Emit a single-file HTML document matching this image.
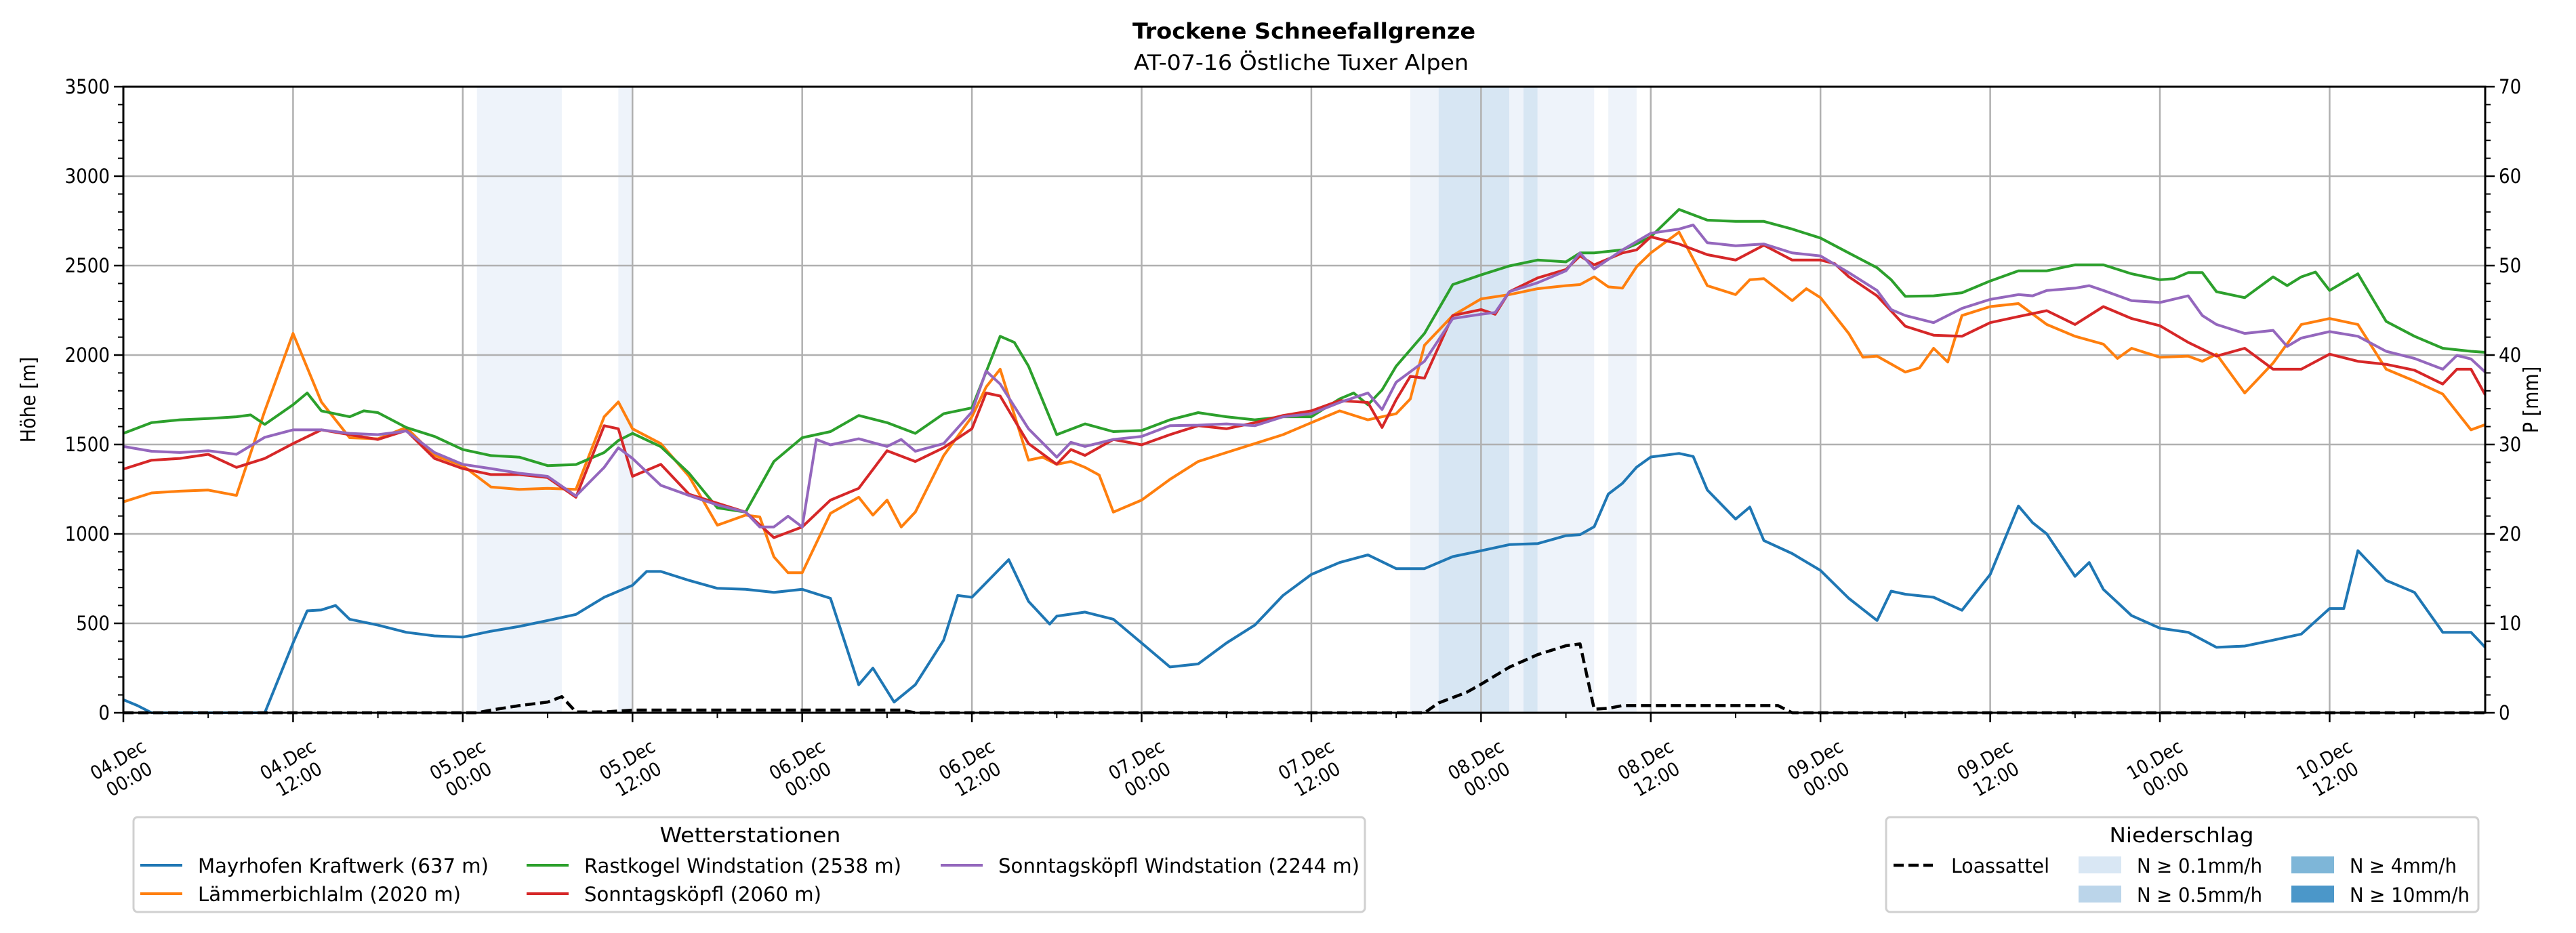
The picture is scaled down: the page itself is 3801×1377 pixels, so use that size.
<!DOCTYPE html>
<html><head><meta charset="utf-8"><title>Trockene Schneefallgrenze</title>
<style>
html,body{margin:0;padding:0;background:#fff;}
svg{display:block;}
text{font-family:"DejaVu Sans Condensed","Liberation Sans Narrow","DejaVu Sans",sans-serif;fill:#000;}
</style></head>
<body>
<svg id="chart" xmlns="http://www.w3.org/2000/svg" width="3801" height="1377" viewBox="0 0 3801 1377">
<rect x="0" y="0" width="3801" height="1377" fill="#fff"/>
<text x="1924" y="57" text-anchor="middle" font-size="32" font-weight="bold" textLength="506" lengthAdjust="spacingAndGlyphs">Trockene Schneefallgrenze</text>
<text x="1920" y="103" text-anchor="middle" font-size="31" textLength="494" lengthAdjust="spacingAndGlyphs">AT-07-16 Östliche Tuxer Alpen</text>
<g id="shade"></g><g id="grid"></g><g id="series"></g><g id="axes"></g><g id="legend"></g>
</svg>
<script>
// ---- data ----
const xTickLabelsTop = ["04.Dec","04.Dec","05.Dec","05.Dec","06.Dec","06.Dec","07.Dec","07.Dec","08.Dec","08.Dec","09.Dec","09.Dec","10.Dec","10.Dec"];
const xTickLabelsBottom = ["00:00","12:00","00:00","12:00","00:00","12:00","00:00","12:00","00:00","12:00","00:00","12:00","00:00","12:00"];
const yTicksLeft = [0,500,1000,1500,2000,2500,3000,3500];
const yTicksRight = [0,10,20,30,40,50,60,70];

const shadeStart = [25,35,91,93,98,99,100,105];
const shadeEnd   = [31,36,93,98,99,100,104,107];
const shadeLevel = [0,0,0,1,0,1,0,0];

const precipHours = [0,25,26,28,30,31,32,34,35,36,55,56,92,93,95,96,98,99,100,102,103,104,105,106,107,117,118,167];
const precipVals  = [0,0,0.3,0.8,1.2,1.8,0.1,0.1,0.2,0.3,0.3,0,0,1.1,2.3,3.2,5.1,5.8,6.5,7.5,7.7,0.4,0.5,0.8,0.8,0.8,0,0];

const mayrHours = [0,1,2,10,12,13,14,15,16,18,20,22,24,26,28,30,32,34,36,37,38,40,42,44,46,48,50,52,53,54.5,56,58,59,60,62.6,64,65.5,66,68,70,72,74,76,78,80,82,84,86,88,90,92,94,96,98,100,102,103,104,105,106,107,108,110,111,112,114,115,116,118,120,122,124,125,126,128,130,132,134,135,136,138,139,140,142,144,146,148,150,152,154,156,157,158,160,162,164,166,167];
const mayrVals  = [73,40,0,0,390,570,575,600,523,490,450,430,423,456,483,516,550,646,713,790,790,740,696,690,673,690,640,157,250,60,157,406,656,646,856,623,496,540,563,523,390,256,273,390,490,656,773,840,883,806,806,873,906,940,946,990,996,1040,1223,1283,1373,1430,1450,1433,1246,1083,1150,963,890,796,640,516,680,663,646,573,773,1156,1063,1000,763,840,690,543,473,450,366,373,406,440,583,583,906,740,673,450,450,366];

const laemHours = [0,2,4,6,8,10,12,14,16,18,20,22,24,26,28,30,32,34,35,36,38,40,42,44,45,46,47,48,50,52,53,54,55,56,58,60,61,62,64,65,66,67,68,69,70,72,74,76,78,80,82,84,86,88,90,91,92,94,96,98,100,102,103,104,105,106,107,108,110,112,114,115,116,118,119,120,122,123,124,126,127,128,129,130,132,134,136,138,140,141,142,144,146,147,148,150,152,154,156,158,160,162,164,166,167];
const laemVals  = [1179,1229,1239,1245,1215,1688,2121,1738,1538,1532,1595,1439,1382,1262,1249,1255,1249,1655,1738,1588,1505,1322,1049,1105,1095,872,783,783,1115,1205,1105,1189,1039,1122,1438,1655,1821,1921,1412,1429,1389,1405,1372,1329,1122,1189,1305,1405,1455,1505,1555,1622,1688,1638,1672,1755,2055,2221,2314,2338,2371,2388,2394,2437,2381,2374,2494,2571,2687,2388,2338,2421,2427,2304,2371,2321,2121,1988,1994,1905,1928,2038,1961,2221,2271,2288,2171,2105,2061,1981,2038,1988,1994,1965,2005,1788,1955,2171,2204,2171,1921,1855,1782,1582,1611];

const rastHours = [0,2,4,6,8,9,10,12,13,14,16,17,18,20,22,24,26,28,30,32,34,35,36,38,40,42,44,46,48,50,52,54,56,58,60,61,62,63,64,66,68,70,72,74,76,78,80,82,84,86,87,88,89,90,92,94,96,98,100,102,103,104,106,107,108,110,112,114,116,118,120,122,124,125,126,128,130,132,134,136,138,140,142,144,145,146,147,148,150,152,153,154,155,156,158,160,162,164,166,167];
const rastVals  = [1562,1622,1638,1645,1655,1665,1612,1722,1788,1688,1655,1688,1678,1595,1545,1472,1438,1429,1382,1388,1455,1522,1562,1488,1339,1146,1122,1405,1538,1572,1662,1622,1562,1672,1705,1905,2105,2071,1938,1555,1615,1572,1578,1638,1678,1655,1638,1655,1655,1755,1788,1722,1805,1938,2121,2394,2448,2498,2531,2521,2571,2571,2588,2621,2661,2814,2754,2747,2747,2704,2654,2571,2488,2421,2328,2331,2348,2414,2471,2471,2504,2504,2454,2421,2427,2461,2461,2354,2321,2437,2388,2437,2464,2361,2454,2188,2105,2038,2021,2015];

const sonnHours = [0,2,4,6,8,10,12,14,16,18,20,22,24,26,28,30,32,34,35,36,38,40,42,44,46,48,50,52,54,56,58,60,61,62,64,66,67,68,70,72,74,76,78,80,82,84,86,88,89,90,91,92,94,96,97,98,100,102,103,104,106,107,108,110,112,114,116,118,120,121,122,124,126,128,130,132,134,136,138,140,142,144,146,148,150,152,154,156,158,160,162,164,165,166,167];
const sonnVals  = [1362,1412,1422,1445,1372,1422,1505,1582,1555,1528,1578,1422,1365,1332,1332,1315,1205,1605,1588,1322,1389,1222,1172,1122,979,1039,1189,1255,1465,1405,1482,1588,1788,1771,1505,1389,1472,1439,1528,1498,1555,1605,1588,1622,1662,1688,1745,1735,1595,1750,1881,1871,2221,2254,2228,2354,2431,2478,2554,2504,2571,2588,2661,2621,2561,2531,2614,2531,2531,2511,2438,2331,2161,2111,2105,2181,2215,2248,2171,2271,2204,2164,2071,1994,2038,1921,1921,2005,1965,1948,1915,1838,1921,1921,1778];

const sowsHours = [0,2,4,6,8,10,12,14,16,18,20,22,24,26,28,30,32,34,35,36,38,40,42,44,45,46,47,48,49,50,52,54,55,56,58,60,61,62,64,66,67,68,70,72,74,76,78,80,82,84,86,88,89,90,92,94,96,97,98,100,102,103,104,106,108,110,111,112,114,116,118,120,122,124,125,126,128,130,132,134,135,136,138,139,140,142,144,146,147,148,150,152,153,154,156,158,160,162,164,165,166,167];
const sowsVals  = [1489,1462,1455,1465,1445,1540,1582,1582,1562,1555,1575,1455,1389,1365,1339,1322,1212,1372,1482,1422,1272,1215,1162,1122,1039,1039,1099,1039,1528,1498,1532,1489,1528,1462,1505,1682,1911,1838,1588,1429,1512,1489,1528,1545,1605,1608,1615,1605,1655,1672,1735,1788,1695,1848,1965,2204,2228,2238,2354,2404,2471,2571,2481,2588,2681,2704,2727,2628,2611,2621,2571,2554,2461,2361,2254,2221,2181,2261,2311,2338,2331,2361,2374,2388,2361,2304,2294,2331,2221,2171,2121,2138,2048,2095,2131,2105,2021,1981,1921,1998,1978,1905];

// ---- layout ----
const L=182, R=3667, T=128, B=1052, HMAX=167;
const x = h => L + h*(R-L)/HMAX;
const y = v => B - v*(B-T)/3500;
const yp = p => B - p*(B-T)/70;
const NS="http://www.w3.org/2000/svg";
function mk(tag, parent, attrs){const e=document.createElementNS(NS,tag);for(const k in attrs)e.setAttribute(k,attrs[k]);parent.appendChild(e);return e;}

const gShade=document.getElementById('shade'), gGrid=document.getElementById('grid'), gSer=document.getElementById('series'), gAx=document.getElementById('axes'), gLeg=document.getElementById('legend');
const shadeColors=["#eef3fa","#d7e6f3"];
shadeStart.forEach((s,i)=>{
  const r=mk('rect',gShade,{x:x(s),y:T,width:x(shadeEnd[i])-x(s),height:B-T,fill:shadeColors[shadeLevel[i]]});
  
  
});
for(let i=0;i<xTickLabelsTop.length;i++){
  const l=mk('line',gGrid,{x1:x(i*12),x2:x(i*12),y1:T,y2:B,stroke:"#b0b0b0","stroke-width":2.5});
  
  
}
yTicksLeft.forEach(v=>{
  const l=mk('line',gGrid,{x1:L,x2:R,y1:y(v),y2:y(v),stroke:"#b0b0b0","stroke-width":2.5});
  
  
});
function series(hours, vals, color, name, fn){
  const d=hours.map((h,i)=>(i?'L':'M')+x(h).toFixed(1)+','+fn(vals[i]).toFixed(1)).join('');
  const p=mk('path',gSer,{d:d,fill:'none',stroke:color,'stroke-width':4,'stroke-linejoin':'round'});
  
  
  return p;
}
series(mayrHours,mayrVals,'#1f77b4','mayrhofen-kraftwerk-line',y);
series(laemHours,laemVals,'#ff7f0e','laemmerbichlalm-line',y);
series(rastHours,rastVals,'#2ca02c','rastkogel-windstation-line',y);
series(sonnHours,sonnVals,'#d62728','sonntagskoepfl-line',y);
series(sowsHours,sowsVals,'#9467bd','sonntagskoepfl-windstation-line',y);
const pl=series(precipHours,precipVals,'#000','loassattel-precip-line',yp);
pl.setAttribute('stroke-width','4.5');pl.setAttribute('stroke-dasharray','15 7');
const fr=mk('rect',gAx,{x:L,y:T,width:R-L,height:B-T,fill:'none',stroke:'#000','stroke-width':3});


for(let v=0;v<=3500;v+=100){const major=v%500===0;mk('line',gAx,{x1:L,x2:L-(major?14:8),y1:y(v),y2:y(v),stroke:'#000','stroke-width':major?2.5:2});}
yTicksLeft.forEach(v=>{
  const t=mk('text',gAx,{x:L-20,y:y(v)+10,'text-anchor':'end','font-size':29});t.textContent=v;
  
  
});
for(let p=0;p<=70;p+=2){const major=p%10===0;mk('line',gAx,{x1:R,x2:R+(major?14:8),y1:yp(p),y2:yp(p),stroke:'#000','stroke-width':major?2.5:2});}
yTicksRight.forEach(p=>{
  const t=mk('text',gAx,{x:R+20,y:yp(p)+10,'text-anchor':'start','font-size':29});t.textContent=p;
  
  
});
for(let h=0;h<=HMAX;h+=6){const major=h%12===0;mk('line',gAx,{x1:x(h),x2:x(h),y1:B,y2:B+(major?14:8),stroke:'#000','stroke-width':major?2.5:2});}
xTickLabelsTop.forEach((lab,i)=>{
  const cx=x(i*12), cy=1135;
  const t=mk('text',gAx,{'text-anchor':'middle','font-size':28,transform:`translate(${cx},${cy}) rotate(-30)`});
  
  
  const a=mk('tspan',t,{x:0,y:-6});a.textContent=lab;
  const b=mk('tspan',t,{x:0,y:27});b.textContent=xTickLabelsBottom[i];
});
let at=mk('text',gAx,{'text-anchor':'middle','font-size':30,transform:`translate(52,${(T+B)/2}) rotate(-90)`});at.textContent='Höhe [m]';


at=mk('text',gAx,{'text-anchor':'middle','font-size':30,transform:`translate(3745,${(T+B)/2}) rotate(-90)`});at.textContent='P [mm]';



function box(x0,y0,w,h,name){const r=mk('rect',gLeg,{x:x0,y:y0,width:w,height:h,rx:6,fill:'#fff',stroke:'#d0d0d0','stroke-width':3});
  
  }
box(197,1206,1817,140,'station-legend');
let lt=mk('text',gLeg,{x:1107,y:1243,'text-anchor':'middle','font-size':30,textLength:267,lengthAdjust:'spacingAndGlyphs'});lt.textContent='Wetterstationen';


const legNames=['Mayrhofen Kraftwerk (637 m)','Lämmerbichlalm (2020 m)','Rastkogel Windstation (2538 m)','Sonntagsköpfl (2060 m)','Sonntagsköpfl Windstation (2244 m)'];
const legColors=['#1f77b4','#ff7f0e','#2ca02c','#d62728','#9467bd'];
const legLen=[429,388,468,350,533];
const legX=[207,207,777,777,1388], legY=[1277,1319,1277,1319,1277];
legNames.forEach((n,i)=>{
  const g=mk('g',gLeg,{});
  
  
  mk('line',g,{x1:legX[i],x2:legX[i]+62,y1:legY[i],y2:legY[i],stroke:legColors[i],'stroke-width':4});
  const t=mk('text',g,{x:legX[i]+85,y:legY[i]+11,'font-size':29,textLength:legLen[i],lengthAdjust:'spacingAndGlyphs'});t.textContent=n;
});
box(2783,1206,874,140,'precip-legend');
lt=mk('text',gLeg,{x:3219,y:1243,'text-anchor':'middle','font-size':30,textLength:213,lengthAdjust:'spacingAndGlyphs'});lt.textContent='Niederschlag';


let g=mk('g',gLeg,{});


mk('line',g,{x1:2794,x2:2852,y1:1277,y2:1277,stroke:'#000','stroke-width':4.5,'stroke-dasharray':'15 7'});
let tt=mk('text',g,{x:2879,y:1288,'font-size':29,textLength:145,lengthAdjust:'spacingAndGlyphs'});tt.textContent='Loassattel';
const patchLabels=['N ≥ 0.1mm/h','N ≥ 0.5mm/h','N ≥ 4mm/h','N ≥ 10mm/h'];
const patchColors=['#d9e7f4','#bbd5ea','#7eb6d8','#4b97c9'];
const patchLen=[185,185,158,177];
const patchX=[3067,3067,3381,3381], patchY=[1264,1307,1264,1307];
patchLabels.forEach((n,i)=>{
  const gg=mk('g',gLeg,{});
  
  
  mk('rect',gg,{x:patchX[i],y:patchY[i],width:63,height:25,fill:patchColors[i]});
  const t=mk('text',gg,{x:patchX[i]+86,y:patchY[i]+24,'font-size':29,textLength:patchLen[i],lengthAdjust:'spacingAndGlyphs'});t.textContent=n;
});
</script>
</body></html>
